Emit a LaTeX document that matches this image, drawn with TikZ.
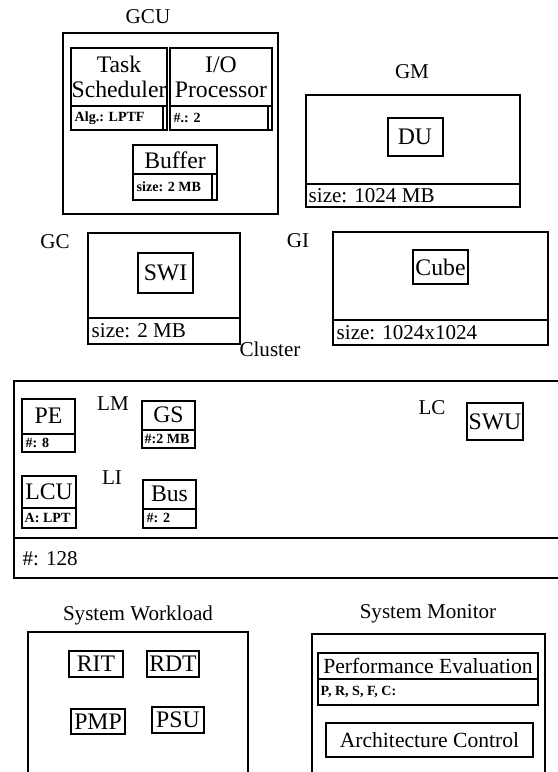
\documentclass[tikz,border=0pt]{standalone}
\usepackage{fontspec}
\setmainfont{Liberation Serif}

\begin{document}
\begin{tikzpicture}[x=0.02cm, y=-0.02cm, line width=0.8pt,
  lbl/.style={font=\fontsize{12}{14}\selectfont},
  unit/.style={font=\fontsize{13.5}{14}\selectfont, align=center},
  wide/.style={font=\fontsize{12.3}{14}\selectfont},
  fld/.style={anchor=west, inner sep=0pt, font=\fontsize{12}{14}\selectfont},
  tiny/.style={anchor=west, inner sep=0pt, font=\fontsize{8}{9}\selectfont\bfseries}]
  \clip (0,0) rectangle (558,772);

  % GCU with its three units
  \node[lbl] (gcu) at (148,17) {GCU};
  \draw (63,33) rectangle (278,214);
  \draw (71,48) rectangle (167,130) (71,106) -- (167,106) (163,106) -- (163,130);
  \node[unit] (sched) at (119,77) {Task\\Scheduler};
  \node[tiny] (alg) at (74,118) {Alg.: LPTF};
  \draw (170,48) rectangle (272,130) (170,106) -- (272,106) (268,106) -- (268,130);
  \node[unit] (iop) at (221,77) {I/O\\Processor};
  \node[tiny] (iopn) at (173,118) {\#.: 2};
  \draw (133,145) rectangle (217,200) (133,174) -- (217,174) (212,174) -- (212,200);
  \node[unit] (buf) at (175,160) {Buffer};
  \node[tiny] (bufsize) at (136,187) {size: 2 MB};

  % GM
  \node[lbl] (gm) at (412,72) {GM};
  \draw (306,95) rectangle (520,207) (306,184) -- (520,184);
  \draw (388,118) rectangle (443,156);
  \node[unit] (du) at (415,137) {DU};
  \node[fld] (gmsize) at (308,196) {size: 1024 MB};

  % GC
  \node[lbl] (gc) at (55,242) {GC};
  \draw (88,233) rectangle (240,344) (88,318) -- (240,318);
  \draw (138,253) rectangle (193,293);
  \node[unit] (swi) at (165.5,273) {SWI};
  \node[fld] (gcsize) at (91,331) {size: 2 MB};

  % GI
  \node[lbl] (gi) at (298,241) {GI};
  \draw (333,232) rectangle (548,345) (333,320) -- (548,320);
  \draw (413,250) rectangle (468,284);
  \node[unit] (cube) at (440.5,267) {Cube};
  \node[fld] (gisize) at (336,333) {size: 1024x1024};

  % Cluster
  \node[lbl] (cluster) at (270,349) {Cluster};
  \draw (14,381) rectangle (570,578) (14,538) -- (570,538);
  \node[fld] (nclu) at (22,559) {\#: 128};
  \draw (22,399) rectangle (75,452) (22,434) -- (75,434);
  \node[unit] (pe) at (48.5,416) {PE};
  \node[tiny] (npe) at (25,443) {\#: 8};
  \node[lbl] (lm) at (113,404) {LM};
  \draw (142,401) rectangle (195,448) (142,430) -- (195,430);
  \node[unit] (gs) at (168.5,415) {GS};
  \node[tiny] (gssize) at (144,439) {\#:2 MB};
  \node[lbl] (li) at (112,478) {LI};
  \draw (22,476) rectangle (76,528) (22,508) -- (76,508);
  \node[unit] (lcu) at (49,492) {LCU};
  \node[tiny] (lcua) at (24,518) {A: LPT};
  \draw (143,480) rectangle (196,528) (143,509) -- (196,509);
  \node[unit] (bus) at (169.5,494) {Bus};
  \node[tiny] (nbus) at (146,518) {\#: 2};
  \node[lbl] (lc) at (432,408) {LC};
  \draw (467,403) rectangle (523,440);
  \node[unit] (swu) at (495,421.5) {SWU};

  % System Workload
  \node[lbl] (wl) at (138,615) {System Workload};
  \draw (28,632) rectangle (248,790);
  \draw (69,651) rectangle (123,677);
  \node[unit] (rit) at (96,664) {RIT};
  \draw (147,651) rectangle (199,677);
  \node[unit] (rdt) at (173,664) {RDT};
  \draw (71,709) rectangle (125,734);
  \node[unit] (pmp) at (98,721.5) {PMP};
  \draw (152,707) rectangle (204,733);
  \node[unit] (psu) at (178,720) {PSU};

  % System Monitor
  \node[lbl] (mon) at (428,614) {System Monitor};
  \draw (312,634) rectangle (545,790);
  \draw (318,653) rectangle (538,705) (318,679) -- (538,679);
  \node[wide] (perf) at (428,666) {Performance Evaluation};
  \node[tiny] (perfp) at (320,692) {P, R, S, F, C:};
  \draw (326,723) rectangle (533,757);
  \node[wide] (arch) at (429.5,740) {Architecture Control};
\end{tikzpicture}
\end{document}
